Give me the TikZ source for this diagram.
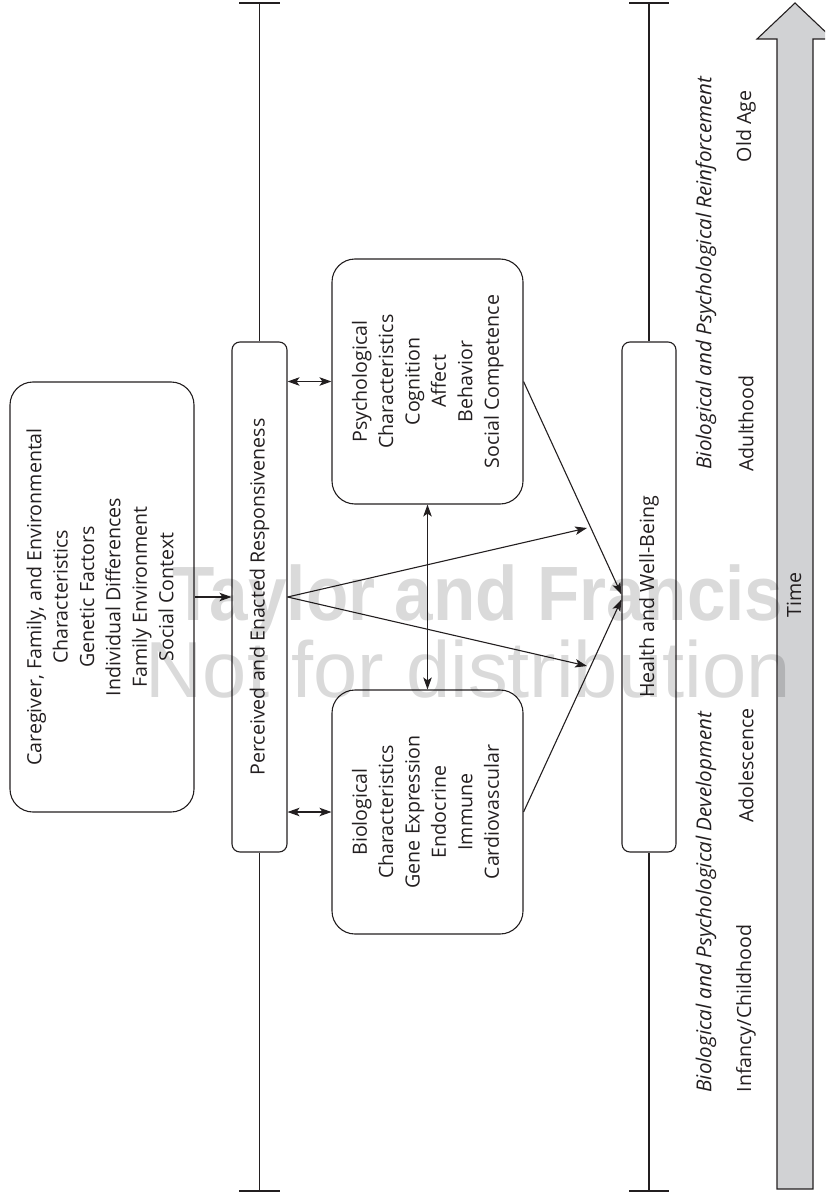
\documentclass[tikz,border=0pt]{standalone}
\usepackage{fontspec}
\setmainfont{Open Sans}
\newfontfamily\wmfont{Liberation Sans}
\usetikzlibrary{arrows.meta}
\definecolor{timegray}{RGB}{209,210,212}
\definecolor{ink}{RGB}{35,31,32}
\newcommand{\fs}{\fontsize{19.6}{26.4}\selectfont}
\newcommand{\fsi}{\fontsize{20.6}{26.4}\selectfont\itshape}
\newcommand{\rot}[1]{\rotatebox{90}{\begin{tabular}{@{}c@{}}#1\end{tabular}}}
\begin{document}
\begin{tikzpicture}[x=1pt,y=-1pt,line width=1.1pt,draw=ink,
  bigbox/.style={draw,rounded corners=23pt,inner sep=0pt,font=\fs,text=ink},
  smallbox/.style={draw,rounded corners=8pt,inner sep=0pt,font=\fs,text=ink},
  lbl/.style={rotate=90,inner sep=0pt,font=\fs,text=ink},
  ilbl/.style={rotate=90,inner sep=0pt,font=\fsi,text=ink},
  arr/.style={-{Stealth[length=12pt,width=8.5pt,inset=3pt]}},
  darr/.style={{Stealth[length=12pt,width=8.5pt,inset=3pt]}-{Stealth[length=12pt,width=8.5pt,inset=3pt]}},
  wm/.style={inner sep=0pt,text=black,text opacity=0.145}]
\useasboundingbox (0,0) rectangle (825,1198);
\clip (0,0) rectangle (825,1198);

% time arrow
\filldraw[fill=timegray,draw=ink] (777,1189) -- (777,39) -- (757,39) -- (795,3) -- (833,39) -- (813,39) -- (813,1189) -- cycle;
\node[lbl] (time) at (794,595) {Time};

% boxes
\node[bigbox,minimum width=184pt,minimum height=430pt] (care) at (102,597)
  {\rot{Caregiver, Family, and Environmental\\Characteristics\\Genetic Factors\\Individual Differences\\Family Environment\\Social Context}};
\node[smallbox,minimum width=55pt,minimum height=510pt] (perc) at (259.5,597)
  {\rotatebox{90}{Perceived and Enacted Responsiveness}};
\node[smallbox,minimum width=54pt,minimum height=510pt] (health) at (649,597)
  {\rotatebox{90}{Health and Well-Being}};
\node[bigbox,minimum width=191pt,minimum height=245pt] (psych) at (427.5,381.5)
  {\rot{Psychological\\Characteristics\\Cognition\\Affect\\Behavior\\Social Competence}};
\node[bigbox,minimum width=191pt,minimum height=244pt] (bio) at (427.5,812)
  {\rot{Biological\\Characteristics\\Gene Expression\\Endocrine\\Immune\\Cardiovascular}};

% time lines with end ticks
\coordinate (pT) at (259.5,3);
\coordinate (pB) at (259.5,1191);
\coordinate (hT) at (649,3);
\coordinate (hB) at (649,1191);
\draw (pT) -- (perc.north);
\draw (perc.south) -- (pB);
\draw (hT) -- (health.north);
\draw (health.south) -- (hB);
\draw ([xshift=-20.5pt]pT) -- ([xshift=20.5pt]pT);
\draw ([xshift=-20.5pt]pB) -- ([xshift=20.5pt]pB);
\draw ([xshift=-20pt]hT) -- ([xshift=20pt]hT);
\draw ([xshift=-20pt]hB) -- ([xshift=20pt]hB);

% connectors
\draw[arr] (care.east) -- (care.east -| perc.west);
\draw[darr] (psych.west) -- (psych.west -| perc.east);
\draw[darr] (bio.west) -- (bio.west -| perc.east);
\draw[darr] (psych.south) -- (bio.north);
\coordinate (up) at (587,528);
\coordinate (lo) at (587,666);
\draw[arr] (perc.east) -- (up);
\draw[arr] (perc.east) -- (lo);
\draw[arr] (psych.east) -- ([yshift=2.5pt]health.west);
\draw[arr] (bio.east) -- ([yshift=-2.5pt]health.west);

% life-stage labels
\node[ilbl,anchor=west] (dev) at (706,1093) {Biological and Psychological Development};
\node[ilbl,anchor=west] (rein) at (706,470) {Biological and Psychological Reinforcement};
\node[lbl,anchor=west] (inf) at (746,1093) {Infancy/Childhood};
\node[lbl,anchor=east] (ado) at (746,708) {Adolescence};
\node[lbl,anchor=west] (adu) at (746,472) {Adulthood};
\node[lbl,anchor=east] (old) at (746,90) {Old Age};

% watermark
\node[wm,anchor=base west,font=\wmfont\bfseries\fontsize{77}{77}\selectfont,xscale=0.9] (wm1) at (172,620) {Taylor and Francis};
\node[wm,anchor=base west,font=\wmfont\fontsize{79.5}{79.5}\selectfont] (wm2) at (145,697) {Not for distribution};
\end{tikzpicture}
\end{document}
